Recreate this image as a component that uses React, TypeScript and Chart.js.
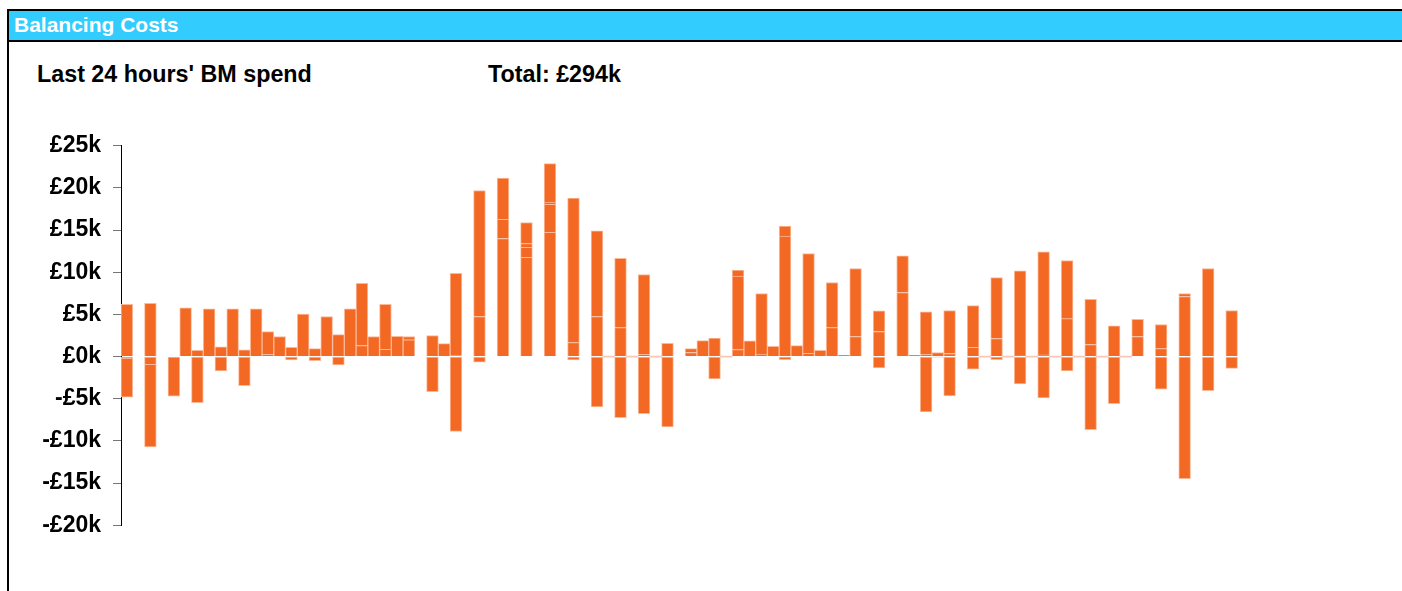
import React, { useEffect, useRef } from "react";
import { Chart, registerables } from "chart.js";

Chart.register(...registerables);

// 96 quarter-hour slots over the last 24 hours
const slots: string[] = Array.from({ length: 96 }, (_, i) => {
  const h = Math.floor(i / 4);
  const m = (i % 4) * 15;
  return `${String(h).padStart(2, "0")}:${String(m).padStart(2, "0")}`;
});

// Positive segments (stacked upward from zero), £k
const pos1: (number | null)[] = [
  6.2, null, 6.33, null, null, 5.78, 0.75, 5.66, 1.15, 5.66, 0.8, 5.66,
  0.24, 2.38, 1.1, 5.03, 0.95, 4.75, 2.6, 5.66, 1.3, 2.38, 0.87, 2.4,
  2.0, null, 2.5, 1.54, 0.12, null, 4.75, null, 14.0, null, 11.76, null,
  14.73, null, 1.66, null, 4.75, null, 3.44, null, 0.24, null, 1.58, null,
  0.48, 1.9, 2.2, null, 0.83, 1.86, 0.28, 1.23, 14.29, 1.3, 0.4, 0.75,
  3.44, 0.16, 2.38, null, 2.97, null, 7.6, 0.15, 0.24, 0.48, 0.36, null,
  1.1, null, 2.14, null, 0.08, null, 0.2, null, 4.5, null, 1.43, null,
  3.64, null, 2.38, null, 0.95, null, 7.13, null, 10.45, null, 5.46, null,
];
const pos2: (number | null)[] = [
  null, null, null, null, null, null, null, null, null, null, null, null,
  2.73, null, null, null, null, null, null, null, 7.4, null, 5.33, null,
  0.38, null, null, null, 9.74, null, 14.95, null, 2.27, null, 1.19, null,
  3.32, null, 17.14, null, 10.15, null, 8.2, null, 9.5, null, null, null,
  0.47, null, null, null, 8.71, null, 7.2, null, 1.19, null, 11.83, null,
  5.35, null, 8.07, null, 2.45, null, 4.36, null, 5.06, null, 5.1, null,
  4.96, null, 7.24, null, 10.09, null, 12.23, null, 6.9, null, 5.37, null,
  null, null, 2.05, null, 2.85, null, 0.35, null, null, null, null, null,
];
const pos3: (number | null)[] = [
  null, null, null, null, null, null, null, null, null, null, null, null,
  null, null, null, null, null, null, null, null, null, null, null, null,
  null, null, null, null, null, null, null, null, 4.91, null, 0.45, null,
  0.28, null, null, null, null, null, null, null, null, null, null, null,
  null, null, null, null, 0.71, null, null, null, null, null, null, null,
  null, null, null, null, null, null, null, null, null, null, null, null,
  null, null, null, null, null, null, null, null, null, null, null, null,
  null, null, null, null, null, null, null, null, null, null, null, null,
];
const pos4: (number | null)[] = [
  null, null, null, null, null, null, null, null, null, null, null, null,
  null, null, null, null, null, null, null, null, null, null, null, null,
  null, null, null, null, null, null, null, null, null, null, 2.5, null,
  4.55, null, null, null, null, null, null, null, null, null, null, null,
  null, null, null, null, null, null, null, null, null, null, null, null,
  null, null, null, null, null, null, null, null, null, null, null, null,
  null, null, null, null, null, null, null, null, null, null, null, null,
  null, null, null, null, null, null, null, null, null, null, null, null,
];
// Negative segments (stacked downward from zero), £k
const neg1: (number | null)[] = [
  -0.25, null, -0.95, null, -4.7, null, -5.46, null, -1.7, null, -3.44, null,
  null, null, -0.4, null, -0.5, null, -1.0, null, null, null, null, null,
  null, null, -4.16, null, -8.87, null, -0.67, null, null, null, null, null,
  null, null, -0.4, null, -5.98, null, -7.24, null, -6.77, null, -8.35, null,
  null, null, -2.65, null, null, null, null, null, -0.36, null, null, null,
  null, null, null, null, -1.35, null, null, null, -6.57, -0.05, -4.67, null,
  -1.5, null, -0.36, null, -3.25, null, -4.9, null, -1.7, null, -8.67, null,
  -5.58, null, null, null, -3.88, null, -14.49, null, -4.04, null, -1.39, null,
];
const neg2: (number | null)[] = [
  -4.55, null, -9.78, null, null, null, null, null, null, null, null, null,
  null, null, null, null, null, null, null, null, null, null, null, null,
  null, null, null, null, null, null, null, null, null, null, null, null,
  null, null, null, null, null, null, null, null, null, null, null, null,
  null, null, null, null, null, null, null, null, null, null, null, null,
  null, null, null, null, null, null, null, null, null, null, null, null,
  null, null, null, null, null, null, null, null, null, null, null, null,
  null, null, null, null, null, null, null, null, null, null, null, null,
];
// Slots with zero spend
const zeroSpend: (number | null)[] = [
  null, null, null, null, null, null, null, null, null, null, null, null,
  null, null, null, null, null, null, null, null, null, null, null, null,
  null, null, null, null, null, null, null, null, null, null, null, null,
  null, null, null, null, null, 0, null, 0, null, 0, null, null,
  null, null, null, 0, null, null, null, null, null, null, null, null,
  null, null, null, null, null, null, null, null, null, null, null, null,
  null, 0, null, 0, null, 0, null, 0, null, 0, null, 0,
  null, 0, null, null, null, null, null, null, null, null, null, null,
];

const yTicks = [-20, -15, -10, -5, 0, 5, 10, 15, 20, 25];
const totalLabel = "Total: £294k";

const FILL = "#F36823";
const EDGE = "rgba(251,185,152,1)";

export default function App() {
  const ref = useRef<HTMLCanvasElement | null>(null);

  useEffect(() => {
    if (!ref.current) return;
    const mk = (label: string, data: (number | null)[], skip: any) => ({
      label,
      data,
      backgroundColor: FILL,
      borderColor: EDGE,
      borderWidth: 1,
      borderSkipped: skip,
      barPercentage: 1,
      categoryPercentage: 1,
    });
    const chart = new Chart(ref.current, {
      type: "bar",
      data: {
        labels: slots,
        datasets: [
          mk("pos1", pos1, "start"),
          mk("pos2", pos2, "start"),
          mk("pos3", pos3, "start"),
          mk("pos4", pos4, "start"),
          mk("neg1", neg1, false),
          mk("neg2", neg2, "start"),
          {
            label: "zero",
            data: zeroSpend,
            backgroundColor: "rgba(250,200,180,1)",
            borderWidth: 0,
            minBarLength: 1,
            barPercentage: 1,
            categoryPercentage: 1,
          } as any,
        ],
      },
      options: {
        responsive: false,
        animation: false,
        layout: { padding: { left: 0, right: 152.7, top: 0, bottom: 0 } },
        plugins: { legend: { display: false }, tooltip: { enabled: false } },
        scales: {
          x: { stacked: true, display: false },
          y: {
            stacked: true,
            min: -20,
            max: 25,
            afterFit: (s: any) => {
              s.width = 121;
            },
            afterBuildTicks: (s: any) => {
              s.ticks = yTicks.map((v) => ({ value: v }));
            },
            ticks: {
              padding: 12,
              color: "#000",
              font: { family: '"Liberation Sans", Arial, sans-serif', size: 23, weight: "bold" },
              callback: (v: any) => (Number(v) < 0 ? "-" : "") + "£" + Math.abs(Number(v)) + "k",
            },
            grid: { drawOnChartArea: false, drawTicks: true, tickLength: 8, color: "#777" },
            border: { display: true, color: "#000", width: 1 },
          },
        },
      },
    });
    return () => chart.destroy();
  }, []);

  const font = '"Liberation Sans", Arial, sans-serif';
  return (
    <div
      style={{
        position: "absolute",
        left: 0,
        top: 0,
        width: 1402,
        height: 591,
        background: "#fff",
        overflow: "hidden",
        fontFamily: font,
      }}
    >
      <div
        style={{
          position: "absolute",
          left: 7,
          top: 9,
          width: 1400,
          height: 600,
          borderLeft: "2px solid #000",
          borderTop: "2px solid #000",
        }}
      />
      <div
        style={{
          position: "absolute",
          left: 9,
          top: 11,
          width: 1393,
          height: 29,
          background: "#33CCFF",
          borderBottom: "2px solid #000",
        }}
      />
      <div
        style={{
          position: "absolute",
          left: 14,
          top: 14,
          fontSize: 21,
          lineHeight: "21px",
          fontWeight: "bold",
          color: "#fff",
          whiteSpace: "nowrap",
        }}
      >
        Balancing Costs
      </div>
      <div
        style={{
          position: "absolute",
          left: 37,
          top: 63,
          fontSize: 23.3,
          lineHeight: "23px",
          fontWeight: "bold",
          color: "#000",
          whiteSpace: "nowrap",
        }}
      >
        Last 24 hours' BM spend
      </div>
      <div
        style={{
          position: "absolute",
          left: 488,
          top: 63,
          fontSize: 23.3,
          lineHeight: "23px",
          fontWeight: "bold",
          color: "#000",
          whiteSpace: "nowrap",
        }}
      >
        {totalLabel}
      </div>
      <canvas
        ref={ref}
        width={1402}
        height={431}
        style={{ position: "absolute", left: 0, top: 119.5, width: 1402, height: 431 }}
      />
    </div>
  );
}
